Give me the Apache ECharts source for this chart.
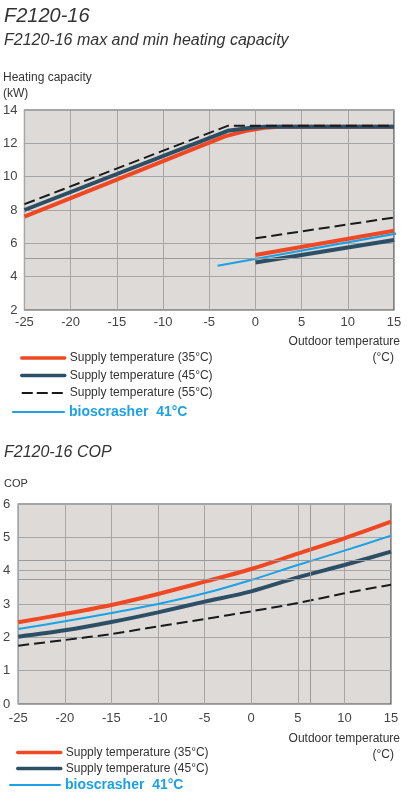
<!DOCTYPE html>
<html lang="en">
<head>
    <meta charset="utf-8">
    <title>F2120-16</title>
    <style>
        html, body { margin: 0; padding: 0; background: #fff; }
    </style>
</head>
<body>
    <div id="main" style="width:412px;height:800px;"></div>
    <script src="https://cdn.jsdelivr.net/npm/echarts@6/dist/echarts.min.js"></script>
    <script type="text/javascript">

    // heating capacity (kW) vs outdoor temperature (°C), [temp, kW]
    var capRed35Max = [[-25, 7.6], [-3.3, 12.42], [-1, 12.75], [1, 12.93], [2.5, 13], [15, 13]];
    var capBlue45Max = [[-25, 8.0], [-3, 12.75], [-0.5, 12.93], [1, 13], [15, 13]];
    var capBlack55Max = [[-25, 8.35], [-3, 13.05], [15, 13.05]];
    var capRed35Min = [[0, 5.3], [15, 6.75]];
    var capBlue45Min = [[0, 4.85], [15, 6.2]];
    var capBlack55Min = [[0, 6.3], [15, 7.55]];
    var capBio41 = [[-4.1, 4.66], [15.8, 6.64]];

    // COP vs outdoor temperature
    var copTemps = [-25, -20, -15, -10, -5, 0, 5, 10, 15];
    var copRed35 = [2.45, 2.7, 2.97, 3.3, 3.67, 4.05, 4.51, 4.97, 5.47];
    var copBlue45 = [2.02, 2.21, 2.46, 2.75, 3.07, 3.38, 3.8, 4.17, 4.57];
    var copBlack55 = [1.75, 1.92, 2.1, 2.33, 2.55, 2.78, 3.03, 3.32, 3.58];
    var copBio41 = [2.25, 2.48, 2.73, 3.0, 3.32, 3.72, 4.17, 4.6, 5.05];

    // stray guide lines drawn over the original charts
    var topGuideY = [5.12];
    var copGuideY = [4.31, 3.74];
    var copGuideX = [6.35];

    var NAME35 = 'Supply temperature (35°C)';
    var NAME45 = 'Supply temperature (45°C)';
    var NAME55 = 'Supply temperature (55°C)';
    var NAMEBIO = 'bioscrasher  41°C';

    var RED = '#ef4823';
    var DARK = '#2c4f66';
    var BLACK = '#1a1a1a';
    var CYAN = '#1ba1e6';
    var FONT = 'Liberation Sans, Arial, sans-serif';

    function zip(xs, ys) {
        return xs.map(function (x, i) { return [x, ys[i]]; });
    }

    function guide(ys, xs) {
        var d = [];
        (ys || []).forEach(function (v) { d.push({ yAxis: v }); });
        (xs || []).forEach(function (v) { d.push({ xAxis: v }); });
        return {
            silent: true,
            symbol: 'none',
            label: { show: false },
            lineStyle: { color: '#9a9a9a', width: 1, type: 'solid' },
            data: d
        };
    }

    function line(name, data, idx, color, width, dashed, smooth) {
        return {
            name: name,
            type: 'line',
            xAxisIndex: idx,
            yAxisIndex: idx,
            data: data,
            symbol: 'none',
            smooth: smooth || false,
            clip: false,
            lineStyle: { color: color, width: width, type: dashed ? [11, 5] : 'solid', cap: 'butt' },
            itemStyle: { color: color }
        };
    }

    var labelStyle = { color: '#444', fontSize: 13, fontFamily: FONT };

    function xAxisCfg(idx, margin) {
        return {
            type: 'value', gridIndex: idx, min: -25, max: 15, interval: 5,
            axisLine: { show: false }, axisTick: { show: false },
            axisLabel: Object.assign({ margin: margin }, labelStyle),
            splitLine: { show: true, lineStyle: { color: '#a6a6a6', width: 1 } }
        };
    }

    function yAxisCfg(idx, min, max, interval, margin) {
        return {
            type: 'value', gridIndex: idx, min: min, max: max, interval: interval,
            axisLine: { show: false }, axisTick: { show: false },
            axisLabel: Object.assign({ margin: margin }, labelStyle),
            splitLine: { show: true, lineStyle: { color: '#a6a6a6', width: 1 } }
        };
    }

    function caption(text, left, top, size, extra) {
        var t = { text: text, top: top, padding: 0,
            textStyle: Object.assign({ color: '#333', fontSize: size, fontWeight: 'normal', fontFamily: FONT, lineHeight: 16 }, extra || {}) };
        if (typeof left === 'string') t.right = left.replace('r', '') - 0; else t.left = left;
        return t;
    }

    // legend entries: thick solid lines for 35/45, thin for dashed 55 and bioscrasher
    function item(name, width, dashed) {
        return { name: name, lineStyle: { width: width, type: dashed ? [11, 4] : 'solid', cap: dashed ? 'butt' : 'round' } };
    }

    function legendCfg(items, left, top, width, textStyle, gap) {
        return {
            data: items, left: left, top: top, orient: 'vertical', padding: 0,
            itemWidth: width, itemHeight: 14, itemGap: gap, selectedMode: false,
            itemStyle: { opacity: 0 },
            textStyle: textStyle
        };
    }

    var myChart = echarts.init(document.getElementById('main'));

    var s1 = line(NAME35, capRed35Max, 0, RED, 4);
    s1.markLine = guide(topGuideY);
    var s2 = line(NAME35, zip(copTemps, copRed35), 1, RED, 4, false, 0.3);
    s2.markLine = guide(copGuideY, copGuideX);

    var legendText = { color: '#333', fontSize: 12, fontFamily: FONT };
    var bioText = { color: CYAN, fontSize: 14, fontWeight: 'bold', fontFamily: FONT };

    var option = {
        animation: false,
        backgroundColor: '#fff',
        title: [
            caption('F2120-16', 4, 5, 20, { fontStyle: 'italic', lineHeight: 22 }),
            caption('F2120-16 max and min heating capacity', 4, 32, 16, { fontStyle: 'italic', lineHeight: 18 }),
            caption('Heating capacity\n(kW)', 3, 70, 12),
            caption('Outdoor temperature', 'r12', 334, 12),
            caption('(°C)', 'r18', 350, 12),
            caption('F2120-16 COP', 4, 444, 16, { fontStyle: 'italic', lineHeight: 18 }),
            caption('COP', 4, 476, 11),
            caption('Outdoor temperature', 'r12', 731, 12),
            caption('(°C)', 'r18', 747, 12)
        ],
        legend: [
            legendCfg([item(NAME35, 3.5), item(NAME45, 3.5), item(NAME55, 2, true)], 20, 352, 43, legendText, 5.5),
            legendCfg([item(NAMEBIO, 2)], 12, 405, 51, bioText, 0),
            legendCfg([item(NAME35, 3.5), item(NAME45, 3.5)], 16, 746.5, 43, legendText, 4),
            legendCfg([item(NAMEBIO, 2)], 9, 778, 50, bioText, 0)
        ],
        grid: [
            { left: 22, right: 18, top: 110, height: 200, show: true,
              backgroundColor: '#dedad7', borderColor: '#4a4a4a', borderWidth: 1.2 },
            { left: 18, right: 21, top: 504, height: 200, show: true,
              backgroundColor: '#dedad7', borderColor: '#4a4a4a', borderWidth: 1.2 }
        ],
        xAxis: [xAxisCfg(0, 6), xAxisCfg(1, 8)],
        yAxis: [yAxisCfg(0, 2, 14, 2, 7), yAxisCfg(1, 0, 6, 1, 8)],
        series: [
            s1,
            line(NAME45, capBlue45Max, 0, DARK, 4),
            line(NAME55, capBlack55Max, 0, BLACK, 2, true),
            line(NAME35, capRed35Min, 0, RED, 4),
            line(NAME45, capBlue45Min, 0, DARK, 4),
            line(NAME55, capBlack55Min, 0, BLACK, 2, true),
            line(NAMEBIO, capBio41, 0, CYAN, 2),

            s2,
            line(NAME45, zip(copTemps, copBlue45), 1, DARK, 4, false, 0.3),
            line(NAME55, zip(copTemps, copBlack55), 1, BLACK, 2, true, 0.3),
            line(NAMEBIO, zip(copTemps, copBio41), 1, CYAN, 2, false, 0.3)
        ]
    };
    myChart.setOption(option);
    </script>
</body>
</html>
